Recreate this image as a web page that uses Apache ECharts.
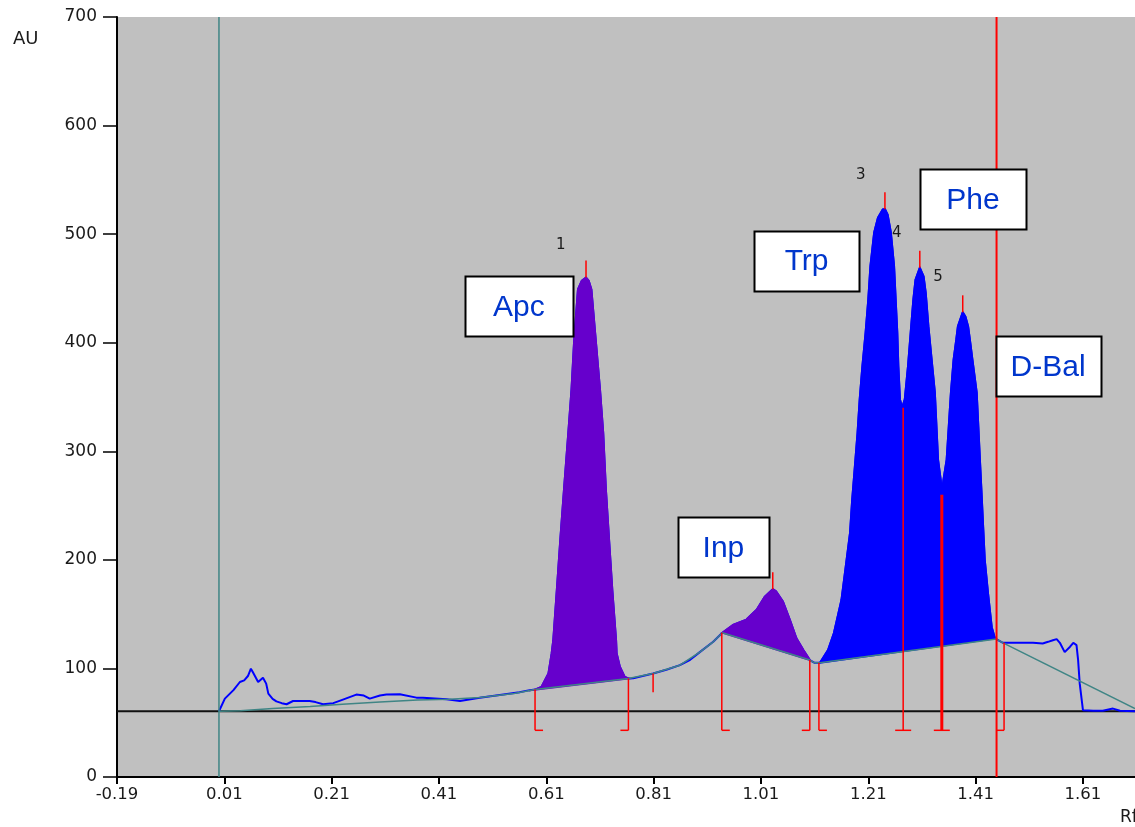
<!DOCTYPE html>
<html>
<head>
<meta charset="utf-8">
<script src="https://cdn.jsdelivr.net/npm/echarts@6/dist/echarts.min.js"></script>
<style>
html,body{margin:0;padding:0;background:#fff;}
#chart{width:1135px;height:827px;}
</style>
</head>
<body>
<div id="chart"></div>
<script>
// ---- Data (Rf, AU) ----
const traceStart = [[0.000,60.6],[0.011,72.2],[0.027,80],[0.039,87.5],[0.047,89],[0.054,93],[0.0595,99.8],[0.063,96.7],[0.073,87.5],[0.082,91.5],[0.088,86],[0.092,76.8],[0.100,72],[0.107,69.7],[0.117,68],[0.126,67],[0.138,70],[0.155,70],[0.169,70],[0.180,69],[0.194,67],[0.213,68],[0.231,71.3],[0.256,75.9],[0.270,75],[0.281,72.2],[0.300,75],[0.312,75.9],[0.337,76.2],[0.368,73.1],[0.380,73],[0.424,71.6],[0.449,70],[0.486,73],[0.530,76],[0.560,78],[0.579,80]];
const peakApc = [[0.589,80.5],[0.601,83],[0.614,95.4],[0.620,113.8],[0.623,126],[0.630,175],[0.636,218],[0.643,265],[0.651,317],[0.657,357],[0.662,403],[0.669,449],[0.676,457],[0.684,460],[0.689,457],[0.694,449],[0.702,403],[0.710,357],[0.716,317],[0.721,265],[0.727,218],[0.733,172],[0.740,126],[0.741,114],[0.747,101.5],[0.756,92.2],[0.763,90.8]];
const traceMid = [[0.772,91],[0.809,95.4],[0.835,99],[0.859,103],[0.878,108],[0.896,115],[0.921,124.5]];
const peakInp = [[0.938,132.9],[0.958,140],[0.983,145],[1.002,154],[1.017,166],[1.032,173],[1.038,171],[1.051,161.5],[1.064,144.6],[1.076,127.7],[1.089,116.9],[1.101,107.7]];
const traceValley = [[1.110,105.2]];
const peakMain = [[1.120,105.2],[1.123,107.6],[1.135,116.9],[1.146,132.6],[1.160,163],[1.168,193.7],[1.176,224.8],[1.180,255.3],[1.185,286],[1.190,317.1],[1.194,347.8],[1.199,378.2],[1.205,409.3],[1.210,439.8],[1.214,470.5],[1.221,501.6],[1.228,515],[1.237,522.8],[1.241,523],[1.246,518],[1.252,501.6],[1.258,470.5],[1.261,439.8],[1.264,409.3],[1.266,378.2],[1.269,347.8],[1.273,340],[1.278,347.8],[1.284,378.2],[1.289,409.3],[1.294,439.8],[1.298,458],[1.306,469],[1.313,461],[1.317,446],[1.322,415],[1.328,384.4],[1.334,354],[1.337,323],[1.340,292],[1.345,273.5],[1.347,260],[1.350,273.5],[1.356,292],[1.360,323],[1.364,354],[1.369,384.4],[1.374,403],[1.377,415],[1.386,428],[1.391,424],[1.396,415],[1.400,400],[1.404,384.4],[1.412,354],[1.415,323],[1.418,292],[1.421,261.7],[1.424,230.4],[1.427,200],[1.433,169.5],[1.440,138],[1.446,127.7]];
const traceEnd = [[1.461,123.6],[1.517,123.6],[1.535,123],[1.545,124.5],[1.554,126],[1.561,127],[1.567,123.6],[1.576,115],[1.586,120],[1.592,123.6],[1.598,121.5],[1.601,107.7],[1.604,86],[1.610,61.5],[1.629,61],[1.647,61],[1.666,63],[1.679,61],[1.707,60.6]];
const baselinePts = [[0.000,60.5],[0.040,61],[0.100,63],[0.170,65],[0.230,67],[0.300,69],[0.370,71],[0.430,71.5],[0.486,73.2],[0.550,77],[0.589,80.5],[0.763,90.8],[0.809,95.4],[0.859,103],[0.896,115],[0.921,124.5],[0.938,132.9],[1.101,107.7],[1.110,105.2],[1.120,105.2],[1.449,127],[1.461,123.6],[1.707,63]];
// integration markers: [Rf, top AU, kind]
const markers = [[0.589,80.5,'start'],[0.763,90.8,'end'],[0.937,132.9,'start'],[1.101,107.7,'end'],[1.118,105.2,'start'],[1.275,340,'split'],[1.347,260,'split2'],[1.463,123.6,'end']];
const markerBottom = 43;
const smallTick = [[0.809,95.4],[0.809,78]];
const peakTops = [[0.684,460],[1.032,173],[1.241,523],[1.306,469],[1.386,428]];
const peakNumbers = ['1','3','4','5'];
const peakNumberPos = [[0.637,490],[1.196,554],[1.263,501],[1.340,460]];
const compoundNames = ['Apc','Inp','Trp','Phe','D-Bal'];
const compoundPos = [[0.559,433.5],[0.940,211.6],[1.095,475.5],[1.405,532.1],[1.545,378.3]];
const originRf = 0.0;
const frontRf = 1.449;
const zeroLevel = 60.5;
const xTickMin = -0.19, xTickMax = 1.707, xTickStep = 0.2;
const yTickMin = 0, yTickMax = 700, yTickStep = 100;

// ---- Chart ----
const chart = echarts.init(document.getElementById('chart'));
const fullTrace = [].concat(traceStart, peakApc, traceMid, peakInp, traceValley, peakMain, traceEnd);
const fillShapes = [peakApc, peakInp, peakMain];
const fillColors = ['#6600CC', '#6600CC', '#0000FF'];
const boxW = [108, 91, 105, 106, 105];
const FONT = '"Liberation Sans", Arial, sans-serif';
const AXFONT = '"DejaVu Sans", sans-serif';

const option = {
  animation: false,
  backgroundColor: '#ffffff',
  grid: { left: 117, right: 0, top: 17, bottom: 50, show: true, backgroundColor: '#C0C0C0', borderWidth: 0 },
  xAxis: {
    type: 'value', min: xTickMin, max: xTickMax, interval: xTickStep,
    axisLine: { show: true, onZero: false, lineStyle: { color: '#000', width: 2 } },
    axisTick: { show: true, length: 7, lineStyle: { color: '#000', width: 2 } },
    axisLabel: { color: '#1a1a1a', fontSize: 16.5, fontFamily: AXFONT, margin: 9, showMaxLabel: false,
      formatter: v => v.toFixed(2) },
    splitLine: { show: false }
  },
  yAxis: {
    type: 'value', min: yTickMin, max: yTickMax, interval: yTickStep,
    axisLine: { show: true, onZero: false, lineStyle: { color: '#000', width: 2 } },
    axisTick: { show: true, length: 14, lineStyle: { color: '#000', width: 1.5 } },
    axisLabel: { color: '#1a1a1a', fontSize: 17, fontFamily: AXFONT, margin: 20 },
    splitLine: { show: false }
  },
  graphic: [
    { type: 'text', left: 13, top: 30, style: { text: 'AU', font: '18px ' + AXFONT, fill: '#1a1a1a' } },
    { type: 'text', left: 1120, top: 809, style: { text: 'Rf', font: '17px ' + AXFONT, fill: '#1a1a1a' } }
  ],
  series: [
    { type: 'line', z: 1, data: [[xTickMin, zeroLevel], [xTickMax, zeroLevel]], showSymbol: false, silent: true,
      lineStyle: { color: '#111', width: 2 } },
    { type: 'line', z: 2, data: fullTrace, showSymbol: false, silent: true,
      lineStyle: { color: '#0000FF', width: 2 } },
    { type: 'custom', z: 3, clip: true, silent: true,
      data: fillShapes.map(s => s[0]), encode: { x: 0, y: 1 },
      renderItem: (params, api) => {
        const i = params.dataIndex;
        const pts = fillShapes[i].map(p => api.coord(p));
        return { type: 'polygon', shape: { points: pts },
          style: { fill: fillColors[i], stroke: fillColors[i], lineWidth: 2 } };
      } },
    { type: 'line', z: 4, data: baselinePts, showSymbol: false, silent: true,
      lineStyle: { color: '#3f8585', width: 1.5 } },
    { type: 'line', z: 5, data: [[originRf, yTickMin], [originRf, yTickMax]], showSymbol: false, silent: true,
      lineStyle: { color: '#3f8585', width: 1.5 } },
    { type: 'line', z: 5, data: [[frontRf, yTickMin], [frontRf, yTickMax]], showSymbol: false, silent: true,
      lineStyle: { color: '#FF0000', width: 2 } },
    { type: 'line', z: 5, data: smallTick, showSymbol: false, silent: true,
      lineStyle: { color: '#FF0000', width: 1.5 } },
    { type: 'custom', z: 5, clip: true, silent: true,
      data: markers.map(m => [m[0], m[1]]), encode: { x: 0, y: 1 },
      renderItem: (params, api) => {
        const m = markers[params.dataIndex];
        const t = api.coord([m[0], m[1]]);
        const b = api.coord([m[0], markerBottom]);
        const lw = m[2] === 'split2' ? 3 : 1.5;
        const st = { stroke: '#FF0000', lineWidth: lw };
        const fst = { stroke: '#FF0000', lineWidth: 1.5 };
        const kids = [{ type: 'line', shape: { x1: t[0], y1: t[1], x2: b[0], y2: b[1] }, style: st }];
        const L = 8;
        if (m[2] === 'start') kids.push({ type: 'line', shape: { x1: b[0], y1: b[1], x2: b[0] + L, y2: b[1] }, style: fst });
        else if (m[2] === 'end') kids.push({ type: 'line', shape: { x1: b[0] - L, y1: b[1], x2: b[0], y2: b[1] }, style: fst });
        else kids.push({ type: 'line', shape: { x1: b[0] - L, y1: b[1], x2: b[0] + L, y2: b[1] }, style: fst });
        return { type: 'group', children: kids };
      } },
    { type: 'custom', z: 5, clip: true, silent: true,
      data: peakTops, encode: { x: 0, y: 1 },
      renderItem: (params, api) => {
        const c = api.coord(peakTops[params.dataIndex]);
        return { type: 'line', shape: { x1: c[0], y1: c[1], x2: c[0], y2: c[1] - 17 },
          style: { stroke: '#FF0000', lineWidth: 1.5 } };
      } },
    { type: 'custom', z: 6, silent: true,
      data: peakNumberPos, encode: { x: 0, y: 1 },
      renderItem: (params, api) => {
        const c = api.coord(peakNumberPos[params.dataIndex]);
        return { type: 'text', style: { text: peakNumbers[params.dataIndex], x: c[0], y: c[1],
          align: 'center', verticalAlign: 'middle', font: '15px ' + AXFONT, fill: '#1a1a1a' } };
      } },
    { type: 'custom', z: 7, silent: true,
      data: compoundPos, encode: { x: 0, y: 1 },
      renderItem: (params, api) => {
        const i = params.dataIndex;
        const c = api.coord(compoundPos[i]);
        const w = boxW[i], h = 60;
        return { type: 'group', children: [
          { type: 'rect', shape: { x: Math.round(c[0] - w / 2) + 0.5, y: Math.round(c[1] - h / 2) + 0.5, width: w, height: h },
            style: { fill: '#ffffff', stroke: '#000', lineWidth: 2 } },
          { type: 'text', style: { text: compoundNames[i], x: c[0], y: c[1] + 1,
            align: 'center', verticalAlign: 'middle', font: '30px ' + FONT, fill: '#0036CC' } }
        ] };
      } }
  ]
};
chart.setOption(option);
</script>
</body>
</html>
